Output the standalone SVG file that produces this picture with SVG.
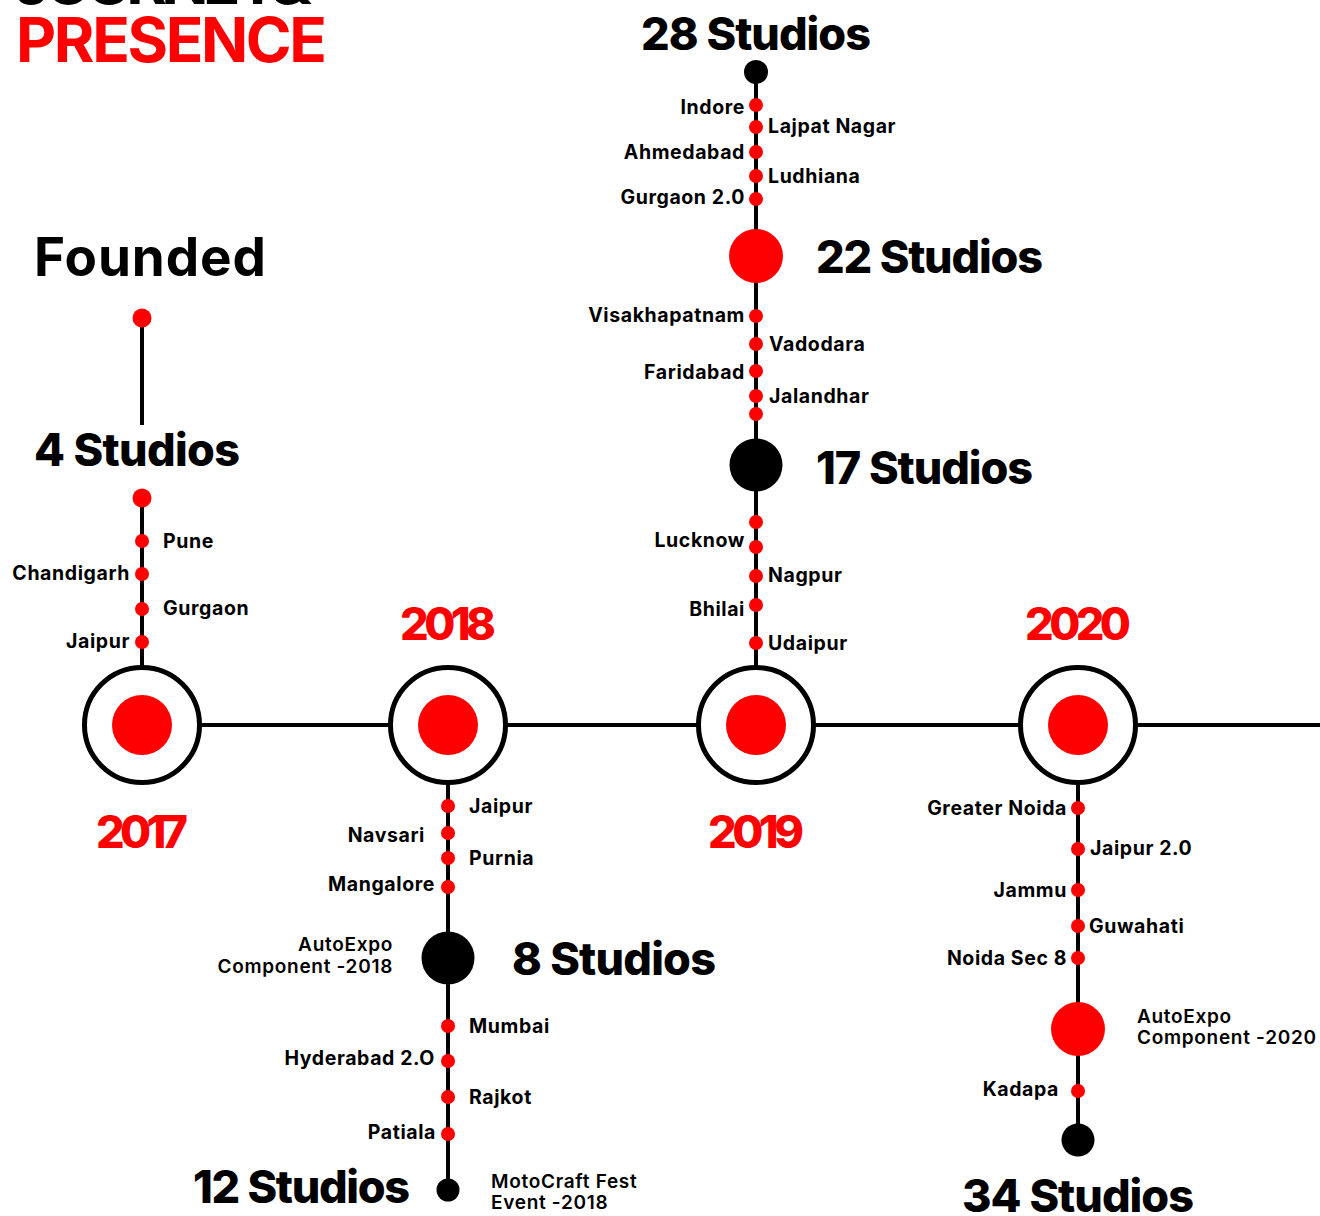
<svg xmlns="http://www.w3.org/2000/svg" width="1320" height="1216" viewBox="0 0 1320 1216">
<style>
text{font-family:Inter,"Open Sans","Liberation Sans",sans-serif;font-weight:700;fill:#000}
.lbl{font-size:19.5px;letter-spacing:0.6px}
.lr{text-anchor:end}
.big{font-size:45px;font-weight:800}
.yr{font-size:45px;font-weight:800;fill:#f00;text-anchor:middle}
.ev{font-size:19px;font-weight:600;letter-spacing:0.7px}
.ln{stroke:#000;stroke-width:4;fill:none}
.dot{fill:#f00}
.blk{fill:#000}
.ring{fill:#fff;stroke:#000;stroke-width:5}
</style>
<rect width="1320" height="1216" fill="#fff"/>
<g id="title">
<text x="14" y="4" font-size="62" font-weight="800" textLength="298">JOURNEY&amp;</text>
<text x="16" y="62" font-size="62" font-weight="800" style="fill:#f00" textLength="311">PRESENCE</text>
</g>
<g id="connectors">
<line class="ln" x1="142" y1="725" x2="1320" y2="725"/>
<line class="ln" x1="142" y1="318" x2="142" y2="425"/>
<line class="ln" x1="142" y1="498" x2="142" y2="668"/>
<line class="ln" x1="448" y1="783" x2="448" y2="1190"/>
<line class="ln" x1="756" y1="72" x2="756" y2="668"/>
<line class="ln" x1="1078" y1="783" x2="1078" y2="1140"/>
</g>
<g id="founded">
<text x="34" y="276" font-size="53" font-weight="800" textLength="232">Founded</text>
<circle class="dot" cx="142" cy="318" r="9.5"/>
</g>
<g id="y2017">
<circle class="ring" cx="142" cy="725" r="57.5"/>
<circle class="dot" cx="142" cy="725" r="30"/>
<text class="yr" x="142" y="848" textLength="92">2017</text>
<text class="big" x="34" y="466" textLength="206">4 Studios</text>
<circle class="dot" cx="142" cy="498" r="9.5"/>
<circle class="dot" cx="142" cy="541" r="7"/><text class="lbl" x="163" y="548">Pune</text>
<circle class="dot" cx="142" cy="574" r="7"/><text class="lbl lr" x="130" y="580">Chandigarh</text>
<circle class="dot" cx="142" cy="609" r="7"/><text class="lbl" x="163" y="615">Gurgaon</text>
<circle class="dot" cx="142" cy="642" r="7"/><text class="lbl lr" x="130" y="648">Jaipur</text>
</g>
<g id="y2018">
<circle class="ring" cx="448" cy="725" r="57.5"/>
<circle class="dot" cx="448" cy="725" r="30"/>
<text class="yr" x="448" y="640" textLength="96">2018</text>
<circle class="dot" cx="448" cy="806" r="7"/><text class="lbl" x="469" y="813">Jaipur</text>
<circle class="dot" cx="448" cy="833" r="7"/><text class="lbl lr" x="425" y="842">Navsari</text>
<circle class="dot" cx="448" cy="858" r="7"/><text class="lbl" x="469" y="865">Purnia</text>
<circle class="dot" cx="448" cy="887" r="7"/><text class="lbl lr" x="435" y="891">Mangalore</text>
<circle class="blk" cx="448" cy="958" r="26.5"/>
<text class="ev lr" x="393" y="951">AutoExpo</text>
<text class="ev lr" x="393" y="973">Component -2018</text>
<text class="big" x="512" y="975" textLength="204">8 Studios</text>
<circle class="dot" cx="448" cy="1026" r="7"/><text class="lbl" x="469" y="1033">Mumbai</text>
<circle class="dot" cx="448" cy="1061" r="7"/><text class="lbl lr" x="435" y="1065">Hyderabad 2.O</text>
<circle class="dot" cx="448" cy="1097" r="7"/><text class="lbl" x="469" y="1104">Rajkot</text>
<circle class="dot" cx="448" cy="1134" r="7"/><text class="lbl lr" x="436" y="1139">Patiala</text>
<circle class="blk" cx="448" cy="1190" r="11.5"/>
<text class="big" x="193" y="1203" textLength="217">12 Studios</text>
<text class="ev" x="491" y="1188">MotoCraft Fest</text>
<text class="ev" x="491" y="1209">Event -2018</text>
</g>
<g id="y2019">
<circle class="ring" cx="756" cy="725" r="57.5"/>
<circle class="dot" cx="756" cy="725" r="30"/>
<text class="yr" x="756" y="848" textLength="96">2019</text>
<circle class="dot" cx="756" cy="643" r="7"/><text class="lbl" x="768" y="650">Udaipur</text>
<circle class="dot" cx="756" cy="605" r="7"/><text class="lbl lr" x="745" y="616">Bhilai</text>
<circle class="dot" cx="756" cy="576" r="7"/><text class="lbl" x="768" y="582">Nagpur</text>
<circle class="dot" cx="756" cy="547" r="7"/><text class="lbl lr" x="745" y="547">Lucknow</text>
<circle class="dot" cx="756" cy="522" r="7"/>
<circle class="blk" cx="756" cy="465" r="26.5"/>
<text class="big" x="816" y="484" textLength="217">17 Studios</text>
<circle class="dot" cx="756" cy="414" r="7"/>
<circle class="dot" cx="756" cy="396" r="7"/><text class="lbl" x="769" y="403">Jalandhar</text>
<circle class="dot" cx="756" cy="371" r="7"/><text class="lbl lr" x="745" y="379">Faridabad</text>
<circle class="dot" cx="756" cy="344" r="7"/><text class="lbl" x="769" y="351">Vadodara</text>
<circle class="dot" cx="756" cy="316" r="7"/><text class="lbl lr" x="745" y="322">Visakhapatnam</text>
<circle class="dot" cx="756" cy="256" r="27"/>
<text class="big" x="816" y="273" textLength="227">22 Studios</text>
<circle class="dot" cx="756" cy="199" r="7"/><text class="lbl lr" x="745" y="204">Gurgaon 2.0</text>
<circle class="dot" cx="756" cy="176" r="7"/><text class="lbl" x="768" y="183">Ludhiana</text>
<circle class="dot" cx="756" cy="152" r="7"/><text class="lbl lr" x="745" y="159">Ahmedabad</text>
<circle class="dot" cx="756" cy="127" r="7"/><text class="lbl" x="768" y="133">Lajpat Nagar</text>
<circle class="dot" cx="756" cy="105" r="7"/><text class="lbl lr" x="745" y="114">Indore</text>
<circle class="blk" cx="756" cy="72" r="12"/>
<text class="big" x="641" y="50" textLength="230">28 Studios</text>
</g>
<g id="y2020">
<circle class="ring" cx="1078" cy="725" r="57.5"/>
<circle class="dot" cx="1078" cy="725" r="30"/>
<text class="yr" x="1078" y="640" textLength="106">2020</text>
<circle class="dot" cx="1078" cy="808" r="7"/><text class="lbl lr" x="1067" y="815">Greater Noida</text>
<circle class="dot" cx="1078" cy="849" r="7"/><text class="lbl" x="1090" y="855">Jaipur 2.0</text>
<circle class="dot" cx="1078" cy="890" r="7"/><text class="lbl lr" x="1067" y="897">Jammu</text>
<circle class="dot" cx="1078" cy="926" r="7"/><text class="lbl" x="1089" y="933">Guwahati</text>
<circle class="dot" cx="1078" cy="958" r="7"/><text class="lbl lr" x="1067" y="965">Noida Sec 8</text>
<circle class="dot" cx="1078" cy="1029" r="27"/>
<text class="ev" x="1137" y="1023">AutoExpo</text>
<text class="ev" x="1137" y="1044">Component -2020</text>
<circle class="dot" cx="1078" cy="1091" r="7"/><text class="lbl lr" x="1059" y="1096">Kadapa</text>
<circle class="blk" cx="1078" cy="1140" r="16.5"/>
<text class="big" x="962" y="1212" textLength="232">34 Studios</text>
</g>
</svg>
